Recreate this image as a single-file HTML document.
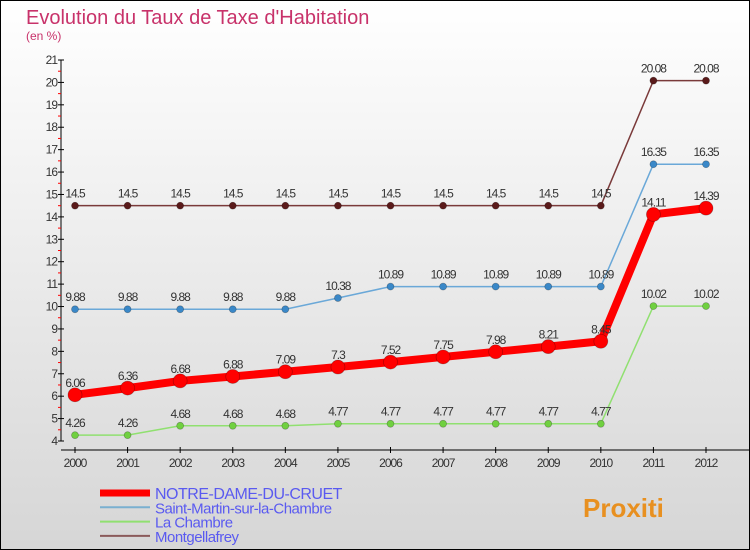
<!DOCTYPE html>
<html><head><meta charset="utf-8"><style>
body{margin:0}
#c{width:750px;height:550px;position:relative;box-sizing:border-box;border:1px solid #000;background:linear-gradient(#ffffff,#d6d6d6);font-family:"Liberation Sans",sans-serif;overflow:hidden}
</style></head><body>
<div id="c">
<svg id="s" width="750" height="550" style="position:absolute;left:-1px;top:-1px"></svg>
</div>
<script>
const years=["2000","2001","2002","2003","2004","2005","2006","2007","2008","2009","2010","2011","2012"];
const notreDame=[6.06,6.36,6.68,6.88,7.09,7.3,7.52,7.75,7.98,8.21,8.45,14.11,14.39];
const saintMartin=[9.88,9.88,9.88,9.88,9.88,10.38,10.89,10.89,10.89,10.89,10.89,16.35,16.35];
const laChambre=[4.26,4.26,4.68,4.68,4.68,4.77,4.77,4.77,4.77,4.77,4.77,10.02,10.02];
const montgellafrey=[14.5,14.5,14.5,14.5,14.5,14.5,14.5,14.5,14.5,14.5,14.5,20.08,20.08];
const yTicks=[4,5,6,7,8,9,10,11,12,13,14,15,16,17,18,19,20,21];
const NS="http://www.w3.org/2000/svg";
const svg=document.getElementById('s');
const X=i=>75+i*(706-75)/12;
const Y=v=>441-(v-4)*(441-60)/17;
function mk(t,a,p){const e=document.createElementNS(NS,t);for(const k in a)e.setAttribute(k,a[k]);(p||svg).appendChild(e);return e;}
// title
let t=mk('text',{x:26,y:24,'font-size':20,fill:'#c8326a'});t.textContent="Evolution du Taux de Taxe d'Habitation";

t=mk('text',{x:26,y:40,'font-size':12,fill:'#c8326a'});t.textContent="(en %)";

// axes
let ax=mk('line',{x1:61,y1:60,x2:61,y2:441,stroke:'#000','stroke-width':1});

ax=mk('line',{x1:61,y1:450,x2:750,y2:450,stroke:'#000','stroke-width':1});

yTicks.forEach((v,i)=>{
  mk('line',{x1:58,x2:64,y1:Y(v),y2:Y(v),stroke:'#000'});
  if(i<yTicks.length-1)mk('line',{x1:58,x2:61,y1:Y(v+0.5),y2:Y(v+0.5),stroke:'#f00'});
  const e=mk('text',{x:57,y:Y(v)+4,'font-size':12,fill:'#333','text-anchor':'end','letter-spacing':'-1'});e.textContent=v;
  
});
years.forEach((y,i)=>{
  mk('line',{x1:X(i),x2:X(i),y1:447,y2:453,stroke:'#000'});
  const e=mk('text',{x:X(i),y:467,'font-size':12,fill:'#333','text-anchor':'middle','letter-spacing':'-1'});e.textContent=y;
  
});
function series(vals,color,w,r,name,dot){
  const g=mk('g',{});
  mk('polyline',{points:vals.map((v,i)=>X(i)+','+Y(v)).join(' '),fill:'none',stroke:color,'stroke-width':w,'stroke-linejoin':'round'},g);
  vals.forEach((v,i)=>{
    const c=mk('circle',{cx:X(i),cy:Y(v),r:r,fill:dot,stroke:'rgba(0,0,0,0.3)','stroke-width':0.7},g);
    
    const e=mk('text',{x:X(i),y:Y(v)-8,'font-size':12,fill:'#333','text-anchor':'middle','letter-spacing':'-1'},g);e.textContent=v;
  });
}
series(montgellafrey,'#7a3a3a',1.5,3.5,'series-montgellafrey','#5a1a1a');
series(saintMartin,'#6aa8d8',1.5,3.5,'series-saint-martin','#3a88c8');
series(laChambre,'#90e070',1.5,3.5,'series-la-chambre','#70d040');
series(notreDame,'#f00',8,7,'series-notre-dame','#f00');
// legend
const leg=[["NOTRE-DAME-DU-CRUET","#f00",7,16],["Saint-Martin-sur-la-Chambre","#7ab0d0",2,15],["La Chambre","#90e070",2,15],["Montgellafrey","#8a5a5a",2,15]];
leg.forEach((l,i)=>{
  const y=493+i*14.3;
  const g=mk('g',{});
  mk('line',{x1:100,x2:150,y1:y,y2:y,stroke:l[1],'stroke-width':l[2]},g);
  const e=mk('text',{x:155,y:y+6,'font-size':l[3],fill:'#5a5af0','letter-spacing':'-0.5'},g);e.textContent=l[0];
});
// logo
const lg=mk('text',{x:583,y:517,'font-size':26,'font-weight':'bold',fill:'#e89020'});lg.textContent="Proxiti";

</script>
</body></html>
